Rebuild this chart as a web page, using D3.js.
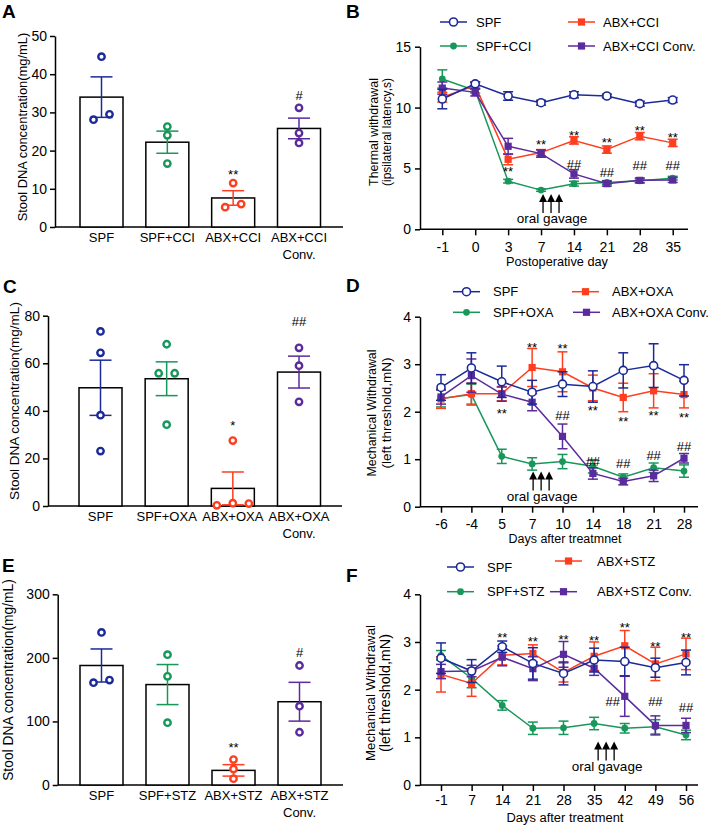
<!DOCTYPE html>
<html><head><meta charset="utf-8">
<script src="https://cdn.jsdelivr.net/npm/d3@7"></script>
<style>body{margin:0;background:#fff} svg{display:block} text{font-family:"Liberation Sans",Arial,sans-serif;fill:#000}</style>
</head><body><svg id="c" width="709" height="827"></svg>
<script>
// ---------------- DATA ----------------
const catsA = ["SPF","SPF+CCI","ABX+CCI","ABX+CCI|Conv."];
const meanA = [34.0,22.2,7.6,25.8];
const semA  = [5.3,2.9,1.9,2.7];
const dotsA = [[44.6,28.1,29.5],[26.3,24.0,16.6],[11.5,5.2,6.0],[31.2,24.6,22.0]];
const sigA = ["","","**","#"];
const sigLevelA = [null,null,14.4,34.5];
const ticksA = [0,10,20,30,40,50];

const catsC = ["SPF","SPF+OXA","ABX+OXA","ABX+OXA|Conv."];
const meanC = [49.7,53.5,7.4,56.3];
const semC  = [11.6,7.1,6.9,6.7];
const dotsC = [[73.4,64.4,38.2,23.1],[68.0,55.8,55.8,34.2],[27.5,0.3,1.2,1.0],[66.5,59.0,43.8]];
const sigC = ["","","*","##"];
const sigLevelC = [null,null,35,77.8];
const ticksC = [0,20,40,60,80];

const catsE = ["SPF","SPF+STZ","ABX+STZ","ABX+STZ|Conv."];
const meanE = [188,158,23,131];
const semE  = [26,31.5,9,30.5];
const dotsE = [[240,161,165],[205,171,98],[40,25,10],[188,124,83]];
const sigE = ["","","**","#"];
const sigLevelE = [null,null,63,208];
const ticksE = [0,100,200,300];

const daysB = ["-1","0","3","7","14","21","28","35"];
const namesB = ["SPF","SPF+CCI","ABX+CCI","ABX+CCI Conv."];
const spfB      = [10.7,11.95,10.95,10.4,11.05,10.95,10.32,10.62];
const spfSemB   = [0.8,0.15,0.35,0.2,0.25,0.15,0.2,0.2];
const spfCciB   = [12.35,11.4,3.95,3.22,3.75,3.85,3.98,4.2];
const spfCciSemB= [0.75,0.2,0.15,0.1,0.2,0.15,0.15,0.15];
const abxCciB   = [10.85,11.8,5.75,6.3,7.3,6.55,7.65,7.1];
const abxCciSemB= [0.4,0.3,0.45,0.25,0.3,0.3,0.3,0.3];
const convB     = [11.6,11.25,6.82,6.22,4.55,3.75,4.02,4.05];
const convSemB  = [0.5,0.3,0.65,0.3,0.35,0.2,0.2,0.2];
const starB = [["3",5.0],["7",7.2],["14",7.97],["21",7.34],["28",8.35],["35",7.75]];
const hashB = [["14",5.37],["21",4.65],["28",5.23],["35",5.23]];
const ticksB = [0,5,10,15];
const gavageB = ["7",2.9];

const daysD = ["-6","-4","5","7","10","14","18","21","28"];
const namesD = ["SPF","SPF+OXA","ABX+OXA","ABX+OXA Conv."];
const spfD      = [2.51,2.92,2.63,2.41,2.58,2.53,2.87,2.97,2.66];
const spfSemD   = [0.27,0.32,0.33,0.25,0.26,0.33,0.37,0.46,0.33];
const spfOxaD   = [2.28,2.36,1.06,0.9,0.95,0.85,0.62,0.82,0.75];
const spfOxaSemD= [0.18,0.22,0.15,0.13,0.15,0.14,0.07,0.1,0.13];
const abxOxaD   = [2.27,2.38,2.38,2.93,2.84,2.5,2.3,2.44,2.36];
const abxOxaSemD= [0.2,0.22,0.15,0.4,0.42,0.27,0.3,0.36,0.28];
const convD     = [2.31,2.76,2.37,2.2,1.48,0.7,0.53,0.65,1.02];
const convSemD  = [0.15,0.35,0.15,0.18,0.26,0.12,0.07,0.12,0.1];
const starD = [["5",2.03],["7",3.42],["10",3.4],["14",2.08],["18",1.86],["21",1.98],["28",1.93]];
const hashD = [["10",1.92],["14",0.95],["18",0.91],["21",1.09],["28",1.28]];
const ticksD = [0,1,2,3,4];
const gavageD = ["7",0.74];

const daysF = ["-1","7","14","21","28","35","42","49","56"];
const namesF = ["SPF","SPF+STZ","ABX+STZ","ABX+STZ Conv."];
const spfF      = [2.66,2.39,2.9,2.55,2.34,2.62,2.59,2.46,2.57];
const spfSemF   = [0.32,0.24,0.12,0.33,0.24,0.25,0.3,0.2,0.26];
const spfStzF   = [2.72,2.24,1.67,1.19,1.2,1.29,1.19,1.22,1.05];
const spfStzSemF= [0.1,0.2,0.1,0.13,0.14,0.13,0.1,0.15,0.1];
const abxStzF   = [2.32,2.13,2.72,2.76,2.36,2.7,2.92,2.54,2.75];
const abxStzSemF= [0.37,0.27,0.2,0.18,0.2,0.3,0.32,0.35,0.33];
const convF     = [2.38,2.39,2.68,2.44,2.74,2.45,1.86,1.25,1.25];
const convSemF  = [0.15,0.12,0.18,0.25,0.27,0.15,0.42,0.2,0.15];
const starF = [["14",3.16],["21",3.08],["28",3.12],["35",3.09],["42",3.36],["49",2.97],["56",3.16]];
const hashF = [["42",1.75],["49",1.75],["56",1.63]];
const ticksF = [0,1,2,3,4];
const gavageF = ["35",0.91];

// ---------------- STYLE ----------------
const colors = ["#1b2a96","#17975a","#ff3d1f","#5a2b9c"];
const shapes = ["open","circle","square","square"];
const FONT = '"Liberation Sans",Arial,sans-serif';
const svg = d3.select("#c");

function styleAxis(g, fs){
  g.attr("font-family", FONT).attr("font-size", fs);
  g.selectAll("path,line").attr("stroke","#000").attr("stroke-width",1.5);
  g.selectAll("text").attr("fill","#000");
}
function fit(sel, target){
  const w = sel.node().getComputedTextLength();
  if(w>0) sel.attr("font-size", (+sel.attr("font-size"))*target/w);
}
function sigText(g, x, yc, txt, fs){
  const off = txt.indexOf("*")>=0 ? 0.57*fs : 0.36*fs;
  g.append("text").attr("x",x).attr("y",yc+off).attr("text-anchor","middle")
   .attr("font-size",fs).text(txt);
}
function panelLetter(t,x,y){
  svg.append("text").attr("x",x).attr("y",y).attr("font-size",19).attr("font-weight","bold").text(t);
}

// ---------------- BAR PANEL ----------------
function barPanel(o){
  const g = svg.append("g");
  const y = d3.scaleLinear().domain([0,o.ticks[o.ticks.length-1]]).range([o.y0,o.y1]);
  const x = d3.scalePoint().domain(o.cats).range([o.cx0,o.cx1]);
  const ya = g.append("g").attr("transform",`translate(${o.ax},0)`)
    .call(d3.axisLeft(y).tickValues(o.ticks).tickFormat(d3.format("d")).tickSize(5).tickPadding(3).tickSizeOuter(0));
  styleAxis(ya,14);
  g.append("line").attr("x1",o.ax).attr("x2",o.axEnd).attr("y1",y(0)).attr("y2",y(0))
    .attr("stroke","#000").attr("stroke-width",1.5);
  const bw = 43;
  o.cats.forEach((c,i)=>{
    const cx = x(c), col = colors[i];
    g.append("rect").attr("x",cx-bw/2).attr("width",bw).attr("y",y(o.mean[i]))
      .attr("height",y(0)-y(o.mean[i])).attr("fill","#fff").attr("stroke","#000").attr("stroke-width",1.5);
    const lo = Math.max(0,o.mean[i]-o.sem[i]), hi = o.mean[i]+o.sem[i];
    g.append("line").attr("x1",cx).attr("x2",cx).attr("y1",y(lo)).attr("y2",y(hi)).attr("stroke",col).attr("stroke-width",1.5);
    [lo,hi].forEach(v=>{ if(v>0) g.append("line").attr("x1",cx-11).attr("x2",cx+11).attr("y1",y(v)).attr("y2",y(v)).attr("stroke",col).attr("stroke-width",1.5);});
    const vals = o.dots[i], px = vals.map(v=>y(v)), clusters=[];
    vals.forEach((v,k)=>{
      let found = clusters.find(cc=>cc.some(m=>Math.abs(px[m]-px[k])<7));
      if(found) found.push(k); else clusters.push([k]);
    });
    clusters.forEach(cc=>{
      cc.forEach((k,j)=>{
        const dx = (j-(cc.length-1)/2)*16;
        g.append("circle").attr("cx",cx+dx).attr("cy",px[k]).attr("r",3.2)
          .attr("fill","#fff").attr("stroke",col).attr("stroke-width",2.4);
      });
    });
    c.split("|").forEach((t,k)=>{
      g.append("text").attr("x",cx).attr("y",y(0)+15+k*16.5).attr("text-anchor","middle")
        .attr("font-size",13).text(t);
    });
    if(o.sig[i]) sigText(g,cx,y(o.sigLevel[i]),o.sig[i],13);
  });
  const t = g.append("text").attr("transform",`translate(${o.tx},${o.ty}) rotate(-90)`)
    .attr("text-anchor","middle").attr("dominant-baseline","central").attr("font-size",13)
    .text("Stool DNA concentration(mg/mL)");
  fit(t,o.tw);
}

// ---------------- LINE PANEL ----------------
function linePanel(o){
  const g = svg.append("g");
  const y = d3.scaleLinear().domain([0,o.ticks[o.ticks.length-1]]).range([o.y0,o.y1]);
  const x = d3.scalePoint().domain(o.days).range([o.x0,o.x1]);
  const ya = g.append("g").attr("transform",`translate(${o.ax},0)`)
    .call(d3.axisLeft(y).tickValues(o.ticks).tickFormat(d3.format("d")).tickSize(5).tickPadding(4).tickSizeOuter(0));
  styleAxis(ya,14);
  const xa = g.append("g").attr("transform",`translate(0,${o.y0})`)
    .call(d3.axisBottom(x).tickSize(6).tickPadding(o.tpad).tickSizeOuter(0));
  xa.select(".domain").remove();
  styleAxis(xa,14);
  g.append("line").attr("x1",o.ax).attr("x2",o.axEnd).attr("y1",o.y0).attr("y2",o.y0)
    .attr("stroke","#000").attr("stroke-width",1.5);

  const order=[1,2,3,0];
  order.forEach(si=>{
    const m=o.means[si], s=o.sems[si], col=colors[si];
    const line=d3.line().x((d,k)=>x(o.days[k])).y(d=>y(d));
    g.append("path").attr("d",line(m)).attr("fill","none").attr("stroke",col).attr("stroke-width",1.5);
    m.forEach((v,k)=>{
      const cx=x(o.days[k]);
      const a=y(v-s[k]), b=y(v+s[k]);
      g.append("line").attr("x1",cx).attr("x2",cx).attr("y1",a).attr("y2",b).attr("stroke",col).attr("stroke-width",1.5);
      [a,b].forEach(yy=>g.append("line").attr("x1",cx-5).attr("x2",cx+5).attr("y1",yy).attr("y2",yy).attr("stroke",col).attr("stroke-width",1.5));
    });
    m.forEach((v,k)=>marker(g,shapes[si],x(o.days[k]),y(v),col));
  });
  o.stars.forEach(([d,l])=>sigText(g,x(d),y(l),"**",13));
  o.hashes.forEach(([d,l,dx])=>sigText(g,x(d)+(dx||0),y(l),"##",13));
  const gx=x(o.gav[0])+o.gdx, tip=y(o.gav[1]);
  [0,8,16].forEach(off=>{
    const ax=gx+off;
    g.append("line").attr("x1",ax).attr("x2",ax).attr("y1",tip+6).attr("y2",tip+19).attr("stroke","#000").attr("stroke-width",1.3);
    g.append("path").attr("d",`M${ax},${tip}L${ax-4},${tip+8}L${ax+4},${tip+8}Z`).attr("fill","#000");
  });
  g.append("text").attr("x",gx+9).attr("y",tip+29).attr("text-anchor","middle").attr("font-size",13.5).text("oral gavage");
  const xt = g.append("text").attr("x",o.xtx).attr("y",o.xty).attr("text-anchor","middle").attr("font-size",13).text(o.xtitle);
  fit(xt,o.xtw);
  o.ytitle.forEach((t,k)=>{
    const tt = g.append("text").attr("transform",`translate(${o.ytx[k]},${o.yty}) rotate(-90)`)
      .attr("text-anchor","middle").attr("dominant-baseline","central").attr("font-size",13).text(t);
    fit(tt,o.ytw[k]);
  });
  o.legend.forEach(([si,lx,ly,tx])=>{
    g.append("line").attr("x1",lx).attr("x2",lx+27).attr("y1",ly).attr("y2",ly).attr("stroke",colors[si]).attr("stroke-width",1.5);
    marker(g,shapes[si],lx+13.5,ly,colors[si]);
    g.append("text").attr("x",tx).attr("y",ly).attr("dominant-baseline","central").attr("font-size",13).text(o.names[si]);
  });
}
function marker(g,shape,cx,cy,col){
  if(shape==="open") g.append("circle").attr("cx",cx).attr("cy",cy).attr("r",4).attr("fill","#fff").attr("stroke",col).attr("stroke-width",1.6);
  else if(shape==="circle") g.append("circle").attr("cx",cx).attr("cy",cy).attr("r",3.4).attr("fill",col);
  else g.append("rect").attr("x",cx-3.6).attr("y",cy-3.6).attr("width",7.2).attr("height",7.2).attr("fill",col);
}

// ---------------- BUILD ----------------
barPanel({cats:catsA,mean:meanA,sem:semA,dots:dotsA,sig:sigA,sigLevel:sigLevelA,ticks:ticksA,
  y0:227,y1:36,ax:55,axEnd:343,cx0:101.5,cx1:299,tx:22,ty:127,tw:189});
barPanel({cats:catsC,mean:meanC,sem:semC,dots:dotsC,sig:sigC,sigLevel:sigLevelC,ticks:ticksC,
  y0:506,y1:315.7,ax:48,axEnd:342,cx0:100.5,cx1:299,tx:14,ty:401,tw:198});
barPanel({cats:catsE,mean:meanE,sem:semE,dots:dotsE,sig:sigE,sigLevel:sigLevelE,ticks:ticksE,
  y0:785,y1:594.3,ax:57.7,axEnd:343,cx0:101.5,cx1:299.5,tx:8,ty:680,tw:202});

linePanel({days:daysB,names:namesB,means:[spfB,spfCciB,abxCciB,convB],sems:[spfSemB,spfCciSemB,abxCciSemB,convSemB],
  ticks:ticksB,y0:229.3,y1:46.7,x0:442.3,x1:672.7,ax:420,axEnd:688,tpad:7,
  stars:starB,hashes:hashB,gav:gavageB,gdx:2,
  xtitle:"Postoperative day",xtx:557,xty:266,xtw:102,
  ytitle:["Thermal withdrawal","(ipsilateral latency,s)"],ytx:[374,387],yty:132,ytw:[108,108],
  legend:[[0,440,22,476],[2,568,22,603],[1,440,46,476],[3,568,46,603]]});
linePanel({days:daysD,names:namesD,means:[spfD,spfOxaD,abxOxaD,convD],sems:[spfSemD,spfOxaSemD,abxOxaSemD,convSemD],
  ticks:ticksD,y0:506.7,y1:316.7,x0:441,x1:684,ax:420,axEnd:698,tpad:6,
  stars:starD,hashes:hashD,gav:gavageD,gdx:1,
  xtitle:"Days after treatmnet",xtx:565,xty:543,xtw:113,
  ytitle:["Mechanical Withdrawal","(left threshold,mN)"],ytx:[372,386.5],yty:413,ytw:[127,111],
  legend:[[0,453,291.7,493],[2,572,291.7,612],[1,453,312.3,493],[3,573,312.3,612]]});
linePanel({days:daysF,names:namesF,means:[spfF,spfStzF,abxStzF,convF],sems:[spfSemF,spfStzSemF,abxStzSemF,convSemF],
  ticks:ticksF,y0:785,y1:594.3,x0:441,x1:686,ax:420,axEnd:698,tpad:4,
  stars:starF,hashes:hashF.map(h=>h[0]==="42"?[h[0],h[1],-12]:h),gav:gavageF,gdx:4,
  xtitle:"Days after treatment",xtx:565,xty:822,xtw:117,
  ytitle:["Mechanical Withdrawal","(left threshold,mN)"],ytx:[370,385],yty:693,ytw:[136,118],
  legend:[[0,447,567,487],[2,555,561,597],[1,447,591.7,487],[3,550,591.7,597]]});

panelLetter("A",2,18); panelLetter("B",346,18);
panelLetter("C",3,293); panelLetter("D",346,292);
panelLetter("E",2,572); panelLetter("F",346,582);
</script></body></html>
